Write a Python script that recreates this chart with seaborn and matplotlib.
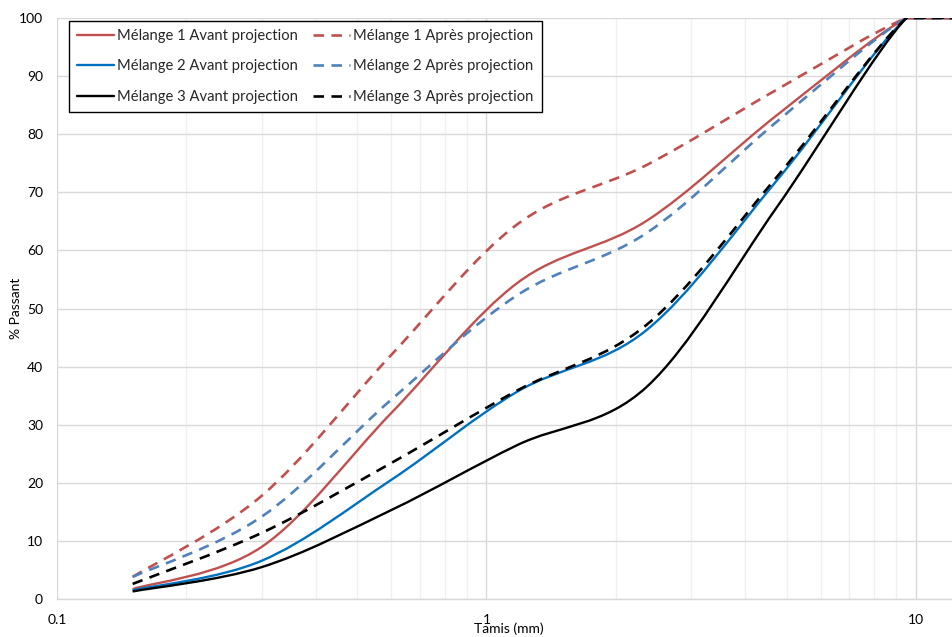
import numpy as np
import pandas as pd
import matplotlib.pyplot as plt
import seaborn as sns
from matplotlib.path import Path
from matplotlib.patches import PathPatch
from matplotlib.lines import Line2D
from matplotlib.ticker import LogLocator, FixedLocator, NullFormatter

# sieve sizes (mm) and % passing
tamis = [0.15, 0.3, 0.6, 1.18, 2.36, 4.75, 9.5, 12.5]
m1_avant = [1.7, 9.0, 32.0, 54.4, 65.1, 83.3, 100, 100]
m1_apres = [3.8, 17.8, 42.0, 64.5, 74.7, 87.7, 100, 100]
m2_avant = [1.5, 6.6, 20.5, 35.7, 46.3, 72.1, 100, 100]
m2_apres = [3.8, 14.2, 34.3, 52.3, 63.0, 82.2, 100, 100]
m3_avant = [1.3, 5.5, 15.3, 26.5, 36.5, 67.5, 100, 100]
m3_apres = [2.6, 11.4, 23.4, 35.9, 47.2, 72.7, 100, 100]

series = [
    ("Mélange 1 Avant projection", m1_avant, "#C0504D", "-"),
    ("Mélange 2 Avant projection", m2_avant, "#0070C0", "-"),
    ("Mélange 3 Avant projection", m3_avant, "#000000", "-"),
    ("Mélange 1 Après projection", m1_apres, "#C0504D", (0, (4, 2.8))),
    ("Mélange 2 Après projection", m2_apres, "#4F81BD", (0, (4, 2.8))),
    ("Mélange 3 Après projection", m3_apres, "#000000", (0, (4, 2.8))),
]

df = pd.concat([pd.DataFrame({"Tamis": tamis, "Passant": v, "Serie": n}) for n, v, c, ls in series])


def smooth_path(x, y):
    # excel style "smoothed line": cubic bezier segments through the points
    u = np.log10(np.asarray(x, float))
    v = np.asarray(y, float)
    n = len(u)
    verts = [(u[0], v[0])]
    codes = [Path.MOVETO]
    for i in range(n - 1):
        a = max(i - 1, 0)
        b = min(i + 2, n - 1)
        c1 = (u[i] + (u[i + 1] - u[a]) / 6, np.clip(v[i] + (v[i + 1] - v[a]) / 6, 0, 100))
        c2 = (u[i + 1] - (u[b] - u[i]) / 6, np.clip(v[i + 1] - (v[b] - v[i]) / 6, 0, 100))
        verts += [c1, c2, (u[i + 1], v[i + 1])]
        codes += [Path.CURVE4] * 3
    verts = np.array(verts)
    verts[:, 0] = 10 ** verts[:, 0]
    return Path(verts, codes)


sns.set_theme(style="whitegrid")
plt.rcParams["font.family"] = ["Lato", "DejaVu Sans"]

fig = plt.figure(figsize=(9.52, 6.37), dpi=100)
ax = fig.add_axes([57 / 952, 38 / 637, 895 / 952, 581 / 637])
ax.set_facecolor("white")

handles = []
for name, vals, col, ls in series:
    d = df[df["Serie"] == name]
    p = PathPatch(smooth_path(d["Tamis"], d["Passant"]), fill=False, edgecolor=col,
                  linewidth=1.7 if ls == "-" else 1.9, linestyle=ls, capstyle="butt")
    ax.add_patch(p)
    handles.append(Line2D([], [], color=col, lw=1.7 if ls == "-" else 1.9, linestyle=ls))

ax.set_xscale("log")
ax.set_xlim(0.1, 10 ** (1 + 36 / 429))
ax.set_ylim(0, 100)
ax.yaxis.set_major_locator(FixedLocator(range(0, 101, 10)))
ax.xaxis.set_major_locator(FixedLocator([0.1, 1, 10]))
ax.set_xticklabels(["0.1", "1", "10"])
ax.xaxis.set_minor_locator(LogLocator(subs=range(2, 10)))
ax.xaxis.set_minor_formatter(NullFormatter())

ax.grid(which="major", color="#D9D9D9", linewidth=1.0)
ax.grid(which="minor", axis="x", color="#F0F0F0", linewidth=1.0)
ax.tick_params(which="both", length=0)
ax.tick_params(axis="y", pad=10, labelsize=10, colors="black")
ax.tick_params(axis="x", pad=11, labelsize=10, colors="black")
for s in ["top", "right", "left"]:
    ax.spines[s].set_visible(False)
ax.spines["bottom"].set_color("#D9D9D9")
ax.spines["bottom"].set_linewidth(1.0)

ax.set_xlabel("Tamis (mm)", fontsize=10, color="black")
ax.xaxis.set_label_coords(0.505, -0.040)
ax.set_ylabel("% Passant", fontsize=10, color="black")
ax.yaxis.set_label_coords(-0.039, 0.5)

leg = ax.legend(handles, [s[0] for s in series], ncol=2, loc="upper left",
                bbox_to_anchor=(0.013, 0.995), borderaxespad=0, fontsize=10.6,
                handlelength=2.5, handletextpad=0.25, columnspacing=1.0,
                labelspacing=1.12, borderpad=0.55, fancybox=False, framealpha=1)
leg.get_frame().set_edgecolor("black")
leg.get_frame().set_linewidth(1.0)

fig.savefig("out.png", dpi=100)
